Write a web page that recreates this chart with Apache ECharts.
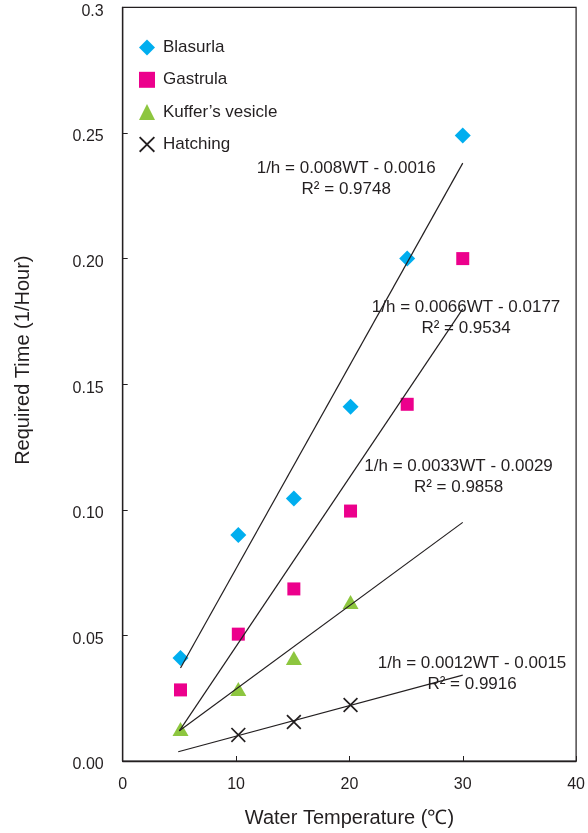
<!DOCTYPE html>
<html><head><meta charset="utf-8">
<script src="https://cdn.jsdelivr.net/npm/echarts@6/dist/echarts.min.js"></script>
<style>html,body{margin:0;padding:0;background:#fff}#c{width:588px;height:833px}</style>
</head><body><div id="c"></div><script>
const seriesNames = ['Blasurla', 'Gastrula', 'Kuffer\u2019s vesicle', 'Hatching'];
const blasurlaTemp = [5.1, 10.2, 15.1, 20.1, 25.1, 30.0];
const blasurlaRate = [0.041, 0.090, 0.1045, 0.141, 0.200, 0.249];
const gastrulaTemp = [5.1, 10.2, 15.1, 20.1, 25.1, 30.0];
const gastrulaRate = [0.0283, 0.0505, 0.0685, 0.0995, 0.142, 0.200];
const kufferTemp = [5.1, 10.2, 15.1, 20.1];
const kufferRate = [0.0127, 0.0287, 0.041, 0.0633];
const hatchTemp = [10.2, 15.1, 20.1];
const hatchRate = [0.0104, 0.0155, 0.0223];
const trendTempStart = [5.1, 5.0, 5.0, 4.9];
const trendTempEnd = [30.0, 30.0, 30.0, 30.0];
const trendRateStart = [0.037, 0.012, 0.012, 0.0037];
const trendRateEnd = [0.238, 0.180, 0.095, 0.0342];
const equations = ['1/h = 0.008WT - 0.0016', '1/h = 0.0066WT - 0.0177', '1/h = 0.0033WT - 0.0029', '1/h = 0.0012WT - 0.0015'];
const rSquared = ['0.9748', '0.9534', '0.9858', '0.9916'];
const yTickLabels = ['0.00', '0.05', '0.10', '0.15', '0.20', '0.25', '0.3'];
const xTickLabels = ['0', '10', '20', '30', '40'];

const FONT = '"Liberation Sans", Arial, Helvetica, sans-serif';
const INK = '#231F20';
const colors = ['#00AEEF', '#EC008C', '#8DC63F', INK];
const symbols = ['diamond', 'rect', 'triangle', 'path://M0,0.8L0.8,0L5,4.2L9.2,0L10,0.8L5.8,5L10,9.2L9.2,10L5,5.8L0.8,10L0,9.2L4.2,5Z'];
const sizes = [16, 13, [16, 14], 15];
const temps = [blasurlaTemp, gastrulaTemp, kufferTemp, hatchTemp];
const rates = [blasurlaRate, gastrulaRate, kufferRate, hatchRate];
const noteAnchors = [[19.72, 0.2317], [30.29, 0.1766], [29.63, 0.1133], [30.82, 0.0346]];

const series = [];
seriesNames.forEach((n, i) => {
  series.push({
    name: n, type: 'scatter', z: 2,
    symbol: symbols[i], symbolSize: sizes[i],
    itemStyle: { color: colors[i], opacity: 1 },
    data: temps[i].map((t, k) => [t, rates[i][k]])
  });
});
equations.forEach((eq, i) => {
  series.push({
    name: 'trend' + i, type: 'line', z: 3, silent: true,
    symbol: 'none',
    lineStyle: { color: INK, width: 1.2 },
    data: [[trendTempStart[i], trendRateStart[i]], [trendTempEnd[i], trendRateEnd[i]]],
    markPoint: {
      symbol: 'circle', symbolSize: 0, silent: true,
      label: {
        show: true, position: 'inside', color: INK, fontFamily: FONT, fontSize: 17,
        lineHeight: 21, align: 'center',
        formatter: eq + '\n' + 'R\u00b2 = ' + rSquared[i]
      },
      data: [{ coord: noteAnchors[i] }]
    }
  });
});

const chart = echarts.init(document.getElementById('c'), null, { renderer: 'canvas' });
chart.setOption({
  animation: false,
  textStyle: { fontFamily: FONT, color: INK },
  grid: { left: 122.7, right: 11.3, top: 7.4, bottom: 72, show: true, borderColor: INK, borderWidth: 1.2, containLabel: false },
  legend: {
    data: seriesNames, orient: 'vertical', left: 134, top: 34, padding: 5,
    itemWidth: 16, itemHeight: 16, itemGap: 15.3,
    textStyle: { fontFamily: FONT, fontSize: 17, color: INK, padding: [0, 0, 0, 3] }
  },
  xAxis: {
    type: 'value', min: 0, max: 40, interval: 10,
    name: 'Water Temperature (\u2103)', nameLocation: 'middle', nameGap: 47,
    nameTextStyle: { fontFamily: FONT, fontSize: 20, color: INK },
    axisLine: { show: true, lineStyle: { color: INK, width: 1.3 } },
    axisTick: { show: true, inside: true, length: 5, lineStyle: { color: INK } },
    axisLabel: { fontFamily: FONT, fontSize: 16, color: INK, margin: 16, formatter: v => xTickLabels[Math.round(v / 10)] },
    splitLine: { show: false }
  },
  yAxis: {
    type: 'value', min: 0, max: 0.3, interval: 0.05,
    name: 'Required Time (1/Hour)', nameLocation: 'middle', nameGap: 89,
    nameTextStyle: { fontFamily: FONT, fontSize: 20, color: INK, padding: [0, 0, 0, 48] },
    axisLine: { show: true, lineStyle: { color: INK, width: 1.3 } },
    axisTick: { show: true, inside: true, length: 5, lineStyle: { color: INK } },
    axisLabel: {
      fontFamily: FONT, fontSize: 16, color: INK, margin: 19,
      formatter: v => '{t|' + yTickLabels[Math.round(v / 0.05)] + '}',
      rich: { t: { fontFamily: FONT, fontSize: 16, color: INK, padding: [8, 0, 0, 0] } }
    },
    splitLine: { show: false }
  },
  series: series
});
</script></body></html>
